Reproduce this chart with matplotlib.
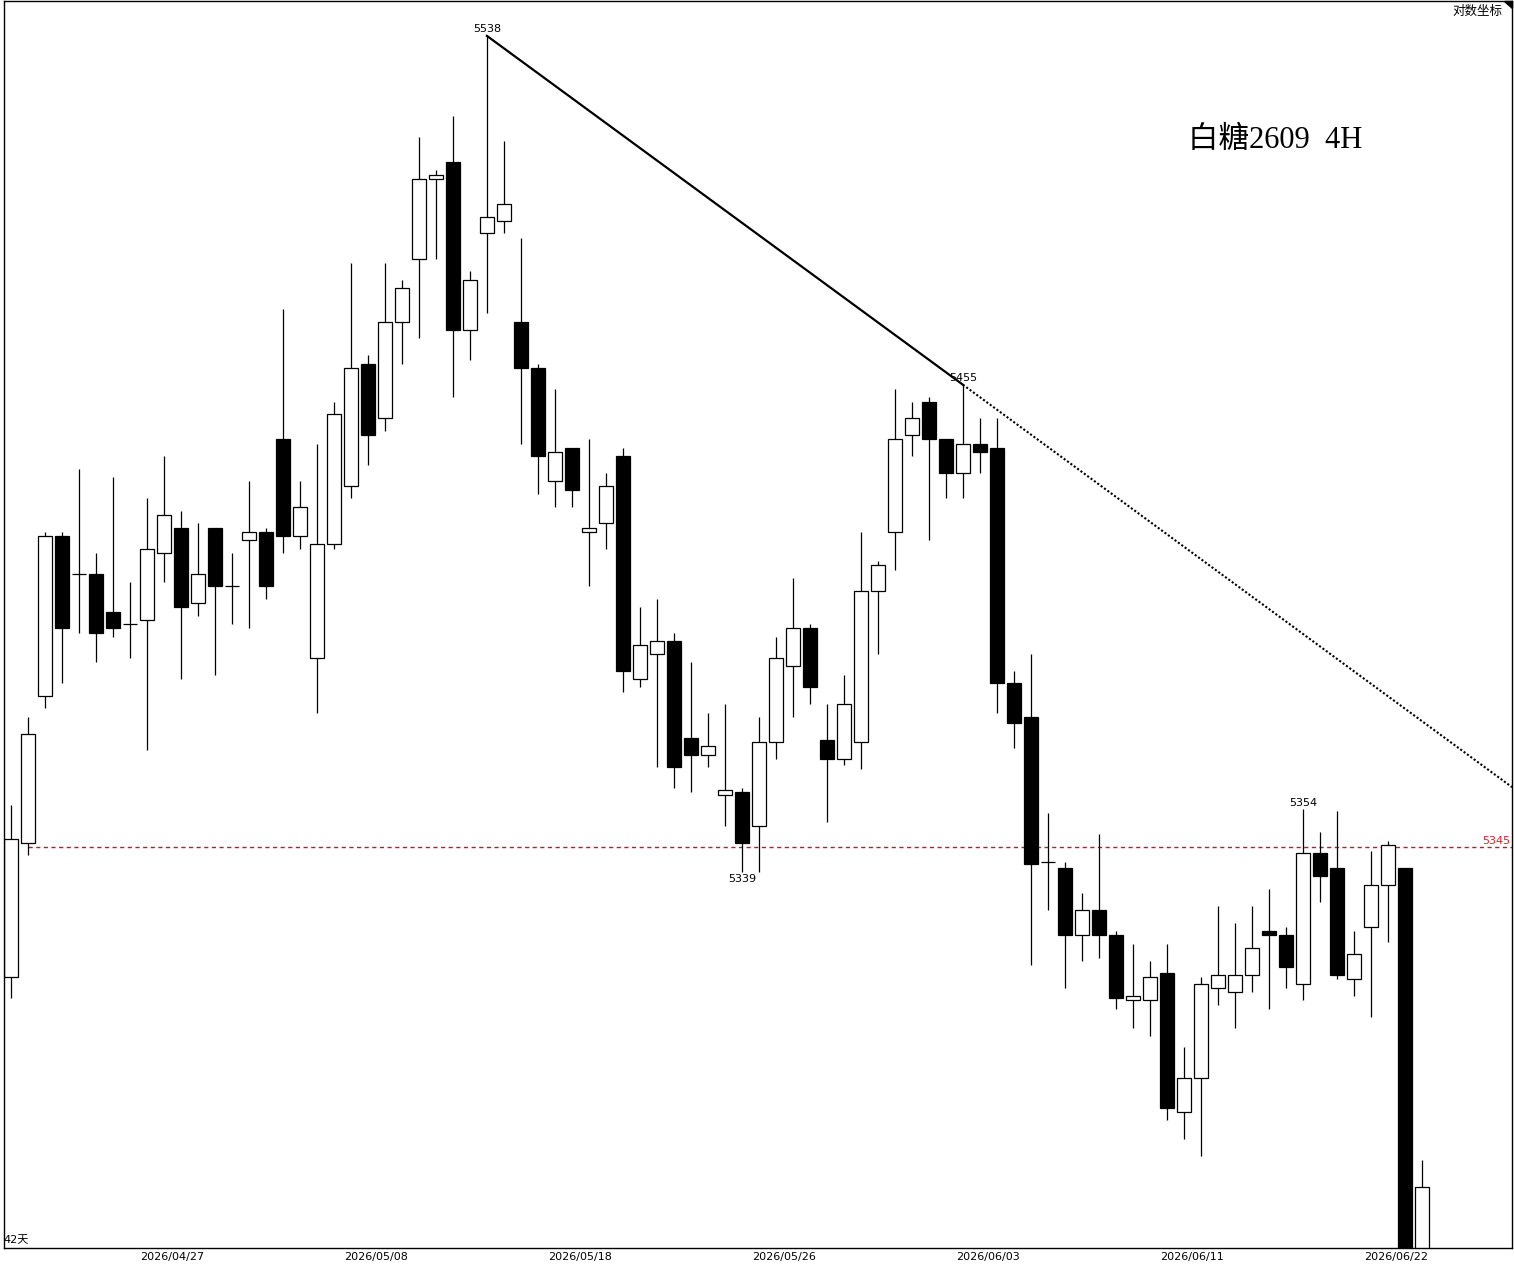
import numpy as np
import matplotlib
matplotlib.use("Agg")
import matplotlib.pyplot as plt
from matplotlib.patches import Polygon

plt.rcParams['font.family'] = ['DejaVu Sans', 'Noto Sans CJK SC']

# 4H candles, white sugar 2609
opens = [5314, 5346, 5381, 5419, 5410, 5410, 5401, 5398, 5399, 5415,
         5421, 5403, 5421, 5407, 5418, 5420, 5442, 5419, 5390, 5417,
         5431, 5460, 5447, 5470, 5485, 5504, 5508, 5468, 5491, 5494,
         5470, 5459, 5432, 5440, 5420, 5422, 5438, 5385, 5391, 5394,
         5371, 5367, 5357.5, 5358, 5350, 5370, 5388, 5397, 5370.5, 5366,
         5370, 5406, 5420, 5443, 5451, 5442, 5434, 5441, 5440, 5384,
         5376, 5341.5, 5340, 5324, 5330, 5324, 5308.5, 5308.5, 5315, 5282,
         5290, 5311.5, 5310.5, 5314.5, 5325, 5324, 5312.5, 5343.5, 5340, 5313.5,
         5326, 5336, 5340, 5245]
highs = [5355, 5376, 5420, 5420, 5435, 5415, 5433, 5408, 5428, 5438,
         5425, 5422, 5421, 5415, 5432, 5421, 5473, 5432, 5441, 5451,
         5484, 5462, 5484, 5480, 5514, 5506, 5519, 5482, 5538, 5513,
         5490, 5460, 5454, 5440, 5442, 5434, 5440, 5402, 5404, 5396,
         5389, 5377, 5379, 5359, 5376, 5395, 5409, 5398, 5379, 5386,
         5420, 5413, 5454, 5451, 5452, 5442, 5455, 5447, 5447, 5387,
         5391, 5353, 5341.5, 5334, 5348, 5325, 5322, 5318, 5322, 5297.5,
         5314, 5331, 5327, 5331, 5335, 5326, 5354, 5348.5, 5353.5, 5325,
         5344, 5346.5, 5340, 5270.5]
lows = [5309, 5343, 5378, 5384, 5396, 5389, 5395, 5390, 5368, 5408,
        5385, 5400, 5386, 5398, 5397, 5404, 5415, 5416, 5377, 5416,
        5428, 5436, 5444, 5460, 5466, 5485, 5452, 5461, 5472, 5491,
        5441, 5429, 5426, 5426, 5407, 5416, 5382, 5383, 5364, 5359,
        5358, 5364, 5350, 5339, 5339, 5366, 5376, 5379, 5351, 5364.5,
        5363.5, 5391, 5411, 5438, 5418, 5428, 5428, 5434, 5377, 5368.5,
        5317, 5330, 5311.5, 5318, 5318.5, 5306.5, 5302, 5300, 5280, 5275.5,
        5271.5, 5307.5, 5302, 5310.5, 5306.5, 5311.5, 5308.5, 5332, 5313.5, 5309.5,
        5304.5, 5322.5, 5238, 5240]
closes = [5347, 5372, 5419, 5397, 5410, 5396, 5397, 5398, 5416, 5424,
          5402, 5410, 5407, 5407, 5420, 5407, 5419, 5426, 5417, 5448,
          5459, 5443, 5470, 5478, 5504, 5505, 5468, 5480, 5495, 5498,
          5459, 5438, 5439, 5430, 5421, 5431, 5387, 5393, 5394, 5364,
          5367, 5369, 5358.5, 5346, 5370, 5390, 5397, 5383, 5366, 5379,
          5406, 5412, 5442, 5447, 5442, 5434, 5441, 5439, 5384, 5374.5,
          5341, 5341.5, 5324, 5330, 5324, 5309, 5309.5, 5314, 5283, 5290,
          5312.5, 5314.5, 5314.5, 5321, 5324, 5316.5, 5343.5, 5338, 5314.5, 5319.5,
          5336, 5345.5, 5242, 5264]

date_labels = ["2026/04/27", "2026/05/08", "2026/05/18", "2026/05/26",
               "2026/06/03", "2026/06/11", "2026/06/22"]

# marked extremes: (bar index, value, above?)
marks = [(28, 5538, True), (56, 5455, True), (43, 5339, False), (76, 5354, True)]
ref_price = 5345

o = np.array(opens, float)
h = np.array(highs, float)
l = np.array(lows, float)
c = np.array(closes, float)
x = np.arange(len(o))

W, H = 1514, 1269
fig = plt.figure(figsize=(W / 100, H / 100), dpi=100)
ax = fig.add_axes([4 / W, 1 - 1248 / H, 1508 / W, 1247 / H])
xmax = 88.3
ax.set_xlim(-0.41, xmax)
ax.set_ylim(5249.6, 5546.3)

# candles
ax.vlines(x, l, h, color="black", lw=0.9, zorder=1)
up = c >= o
ax.bar(x, np.abs(c - o), bottom=np.minimum(o, c), width=0.8,
       color=np.where(up, "white", "black"), edgecolor="black", lw=0.9, zorder=2)

# trendline through the two highs
slope = (5455 - 5538) / (56 - 28)
ax.plot([28, 56], [5538, 5455], color="black", lw=1.6, zorder=3)
ax.plot([56, xmax], [5455, 5455 + slope * (xmax - 56)], color="black",
        lw=1.5, ls=(0, (1, 1.0)), zorder=3)

# reference line
ax.hlines(ref_price, 1, xmax, color="#d4102e", lw=1.0, ls=(0, (3, 2.5)), zorder=0)
ax.annotate(str(ref_price), xy=(1, ref_price), xycoords=("axes fraction", "data"),
            xytext=(-1, 1), textcoords="offset points", ha="right", va="bottom",
            fontsize=8, color="#e0202a")

for i, v, above in marks:
    ax.annotate(str(v), xy=(i, v), xytext=(0, 1 if above else -1),
                textcoords="offset points", ha="center",
                va="bottom" if above else "top", fontsize=8)

ax.set_xticks(np.arange(len(date_labels)) * 12 + 9.5)
ax.set_xticklabels(date_labels, fontsize=8)
ax.tick_params(axis="x", length=0, pad=3)
ax.set_yticks([])
for s in ax.spines.values():
    s.set_linewidth(1.0)

ax.text(0.785, 0.888, "白糖2609  4H", transform=ax.transAxes, fontsize=22,
        family=["Liberation Serif", "Noto Sans CJK SC"], va="center", ha="left")
ax.text(0.9934, 0.992, "对数坐标", transform=ax.transAxes, fontsize=9,
        family=["Noto Sans CJK SC"], va="center", ha="right")
fig.text(3 / W, 1 - 1240 / H, "42天", fontsize=8, va="center", ha="left",
         family=["DejaVu Sans", "Noto Sans CJK SC"])
ax.add_patch(Polygon([[0.995, 1.0], [1.0, 1.0], [1.0, 0.994]], closed=True,
                     transform=ax.transAxes, color="black", clip_on=False))

fig.savefig("out.png", dpi=100, facecolor="white")
